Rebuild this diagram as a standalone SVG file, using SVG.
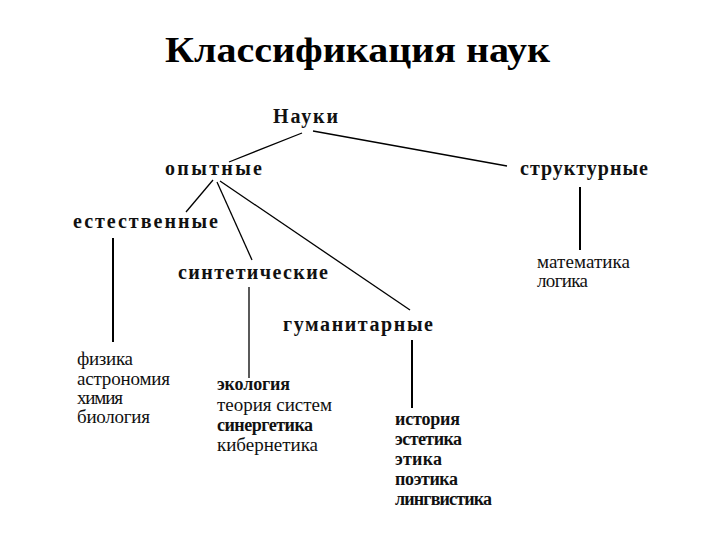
<svg xmlns="http://www.w3.org/2000/svg" width="720" height="540" viewBox="0 0 720 540">
<style>
.title{font-family:"Liberation Serif","Times New Roman",serif;font-weight:bold;font-size:36px;fill:#000}
.lbl{font-family:"Liberation Serif","Times New Roman",serif;font-weight:bold;font-size:20px;fill:#111}
.leaf{font-family:"Liberation Serif","Times New Roman",serif;font-size:19px;fill:#111}
.leafb{font-family:"Liberation Serif","Times New Roman",serif;font-weight:bold;font-size:18px;fill:#111}
.conn line{stroke:#000;stroke-width:1.3;fill:none}
.conn line.v{stroke-width:2}
</style>
<rect width="720" height="540" fill="#fff"/>
<text class="title" x="165" y="62" textLength="385" lengthAdjust="spacingAndGlyphs">Классификация наук</text>
<g id="connectors" class="conn">
<line x1="302" y1="133" x2="229" y2="162"/>
<line x1="313" y1="131" x2="507" y2="166"/>
<line x1="213" y1="180" x2="186" y2="212"/>
<line x1="217" y1="182" x2="252" y2="260"/>
<line x1="220" y1="181" x2="410" y2="310"/>
<line class="v" x1="113" y1="238" x2="113" y2="342"/>
<line x1="249" y1="287" x2="249" y2="378"/>
<line class="v" x1="412" y1="340" x2="412" y2="408"/>
<line class="v" x1="580" y1="187" x2="580" y2="250"/>
</g>
<g id="node-nauki"><text class="lbl" x="273" y="123" textLength="65">Науки</text></g>
<g id="node-opytnye"><text class="lbl" x="165" y="175" textLength="97">опытные</text></g>
<g id="node-strukturnye"><text class="lbl" x="520" y="175" textLength="128">структурные</text></g>
<g id="node-estestvennye"><text class="lbl" x="73" y="228" textLength="145">естественные</text></g>
<g id="node-sinteticheskie"><text class="lbl" x="178" y="279" textLength="150">синтетические</text></g>
<g id="node-gumanitarnye"><text class="lbl" x="283" y="331" textLength="150">гуманитарные</text></g>
<g id="node-struct-leaves">
<text class="leaf" x="537" y="268" textLength="93">математика</text>
<text class="leaf" x="537" y="287" textLength="51">логика</text>
</g>
<g id="node-natural-leaves">
<text class="leaf" x="77" y="365" textLength="56">физика</text>
<text class="leaf" x="77" y="385" textLength="93">астрономия</text>
<text class="leaf" x="77" y="404" textLength="46">химия</text>
<text class="leaf" x="77" y="423" textLength="73">биология</text>
</g>
<g id="node-synthetic-leaves">
<text class="leafb" x="217" y="390" textLength="73">экология</text>
<text class="leaf" x="217" y="411" textLength="115">теория систем</text>
<text class="leafb" x="217" y="431" textLength="96">синергетика</text>
<text class="leaf" x="217" y="451" textLength="101">кибернетика</text>
</g>
<g id="node-humanities-leaves">
<text class="leafb" x="395" y="425" textLength="65">история</text>
<text class="leafb" x="395" y="445" textLength="67">эстетика</text>
<text class="leafb" x="395" y="465" textLength="47">этика</text>
<text class="leafb" x="395" y="485" textLength="63">поэтика</text>
<text class="leafb" x="395" y="505" textLength="97">лингвистика</text>
</g>
</svg>
